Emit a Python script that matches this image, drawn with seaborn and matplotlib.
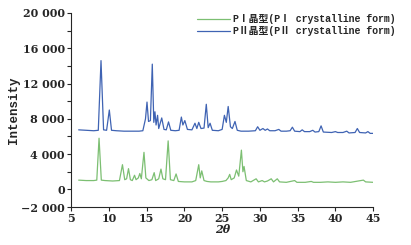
import pandas as pd
import matplotlib.pyplot as plt
import matplotlib.ticker as mticker
import seaborn as sns

# Pontos (2θ, intensidade)
p2_x = [6.0, 7.0, 8.0, 8.6, 8.96, 9.3, 9.7, 10.06, 10.35, 11.0, 12.0, 13.0, 14.0,
        14.5, 14.85, 15.05, 15.25, 15.5, 15.75, 15.95, 16.1, 16.25, 16.45, 16.6, 17.0, 17.3,
        17.6, 17.9, 18.2, 18.8, 19.3, 19.6, 19.8, 20.06, 20.4, 21.0, 21.4, 21.65, 21.9, 22.2,
        22.6, 22.9, 23.15, 23.4, 23.7, 24.5, 25.0, 25.3, 25.55, 25.8, 26.1, 26.35, 26.7, 27.0,
        27.5, 28.5, 29.4, 29.7, 30.0, 30.4, 30.7, 31.0, 31.3, 32.0, 32.5, 32.8, 33.5, 34.0,
        34.3, 34.6, 35.3, 35.6, 35.9, 36.6, 37.0, 37.3, 37.8, 38.1, 38.4, 39.5, 40.0, 40.3,
        41.0, 41.5, 41.8, 42.6, 42.9, 43.2, 44.0, 44.3, 44.6, 45.0]
p2_y = [6750, 6700, 6650, 6700, 14600, 6750, 6700, 9000, 6700, 6650, 6600, 6600, 6600,
        6650, 8000, 9900, 7700, 7800, 14200, 7600, 8800, 7300, 8400, 6900, 8100, 6800,
        6750, 7650, 6700, 6650, 6700, 8200, 7300, 7800, 6800, 6750, 7500, 6900, 7600, 6900,
        6950, 9650, 7000, 7500, 6700, 6650, 6800, 8400, 7600, 9400, 7100, 6900, 7700, 6700,
        6600, 6600, 6650, 7100, 6700, 6900, 6700, 6850, 6650, 6650, 6800, 6600, 6600, 6650,
        7050, 6600, 6550, 6750, 6550, 6550, 6700, 6500, 6550, 7200, 6500, 6450, 6550, 6450,
        6450, 6600, 6400, 6450, 6900, 6450, 6400, 6550, 6350, 6350]

p1_x = [6.0, 7.0, 8.0, 8.4, 8.7, 9.0, 9.5, 10.5, 11.4, 11.8, 12.1, 12.35, 12.6, 12.85,
        13.1, 13.4, 13.6, 13.9, 14.1, 14.3, 14.65, 14.9, 15.3, 15.7, 16.0, 16.2, 16.6, 16.9,
        17.15, 17.5, 17.85, 18.15, 18.6, 18.9, 19.2, 20.0, 21.0, 21.5, 21.9, 22.1, 22.3, 22.6,
        23.0, 23.5, 24.5, 25.0, 25.5, 25.8, 26.0, 26.2, 26.6, 26.9, 27.2, 27.55, 27.75, 27.9,
        28.2, 28.8, 29.5, 29.8, 30.3, 30.6, 31.0, 31.5, 31.8, 32.3, 32.6, 33.5, 34.6, 34.9,
        36.0, 36.8, 37.1, 38.0, 39.0, 40.0, 41.0, 42.0, 43.7, 44.0, 45.0]
p1_y = [1050, 1000, 1000, 1050, 5800, 1050, 1000, 950, 1000, 2800, 1100, 1200, 2350, 1100,
        1000, 1600, 1100, 1300, 1800, 1200, 4200, 1300, 1000, 1100, 1900, 1000, 1200, 2300,
        1200, 1100, 5500, 1100, 1000, 1750, 900, 850, 850, 1000, 2800, 1300, 2100, 1000,
        900, 850, 850, 900, 1000, 1300, 1700, 1100, 1300, 2200, 1500, 4450, 2000, 2600,
        1000, 850, 1200, 850, 1000, 850, 950, 1200, 850, 1200, 850, 800, 1000, 800,
        800, 900, 800, 800, 850, 800, 850, 800, 1050, 850, 800]

label1 = "PⅠ晶型(PⅠ crystalline form)"
label2 = "PⅡ晶型(PⅡ crystalline form)"

x_ticks = [5, 10, 15, 20, 25, 30, 35, 40, 45]
y_ticks = [-2000, 0, 4000, 8000, 12000, 16000, 20000]

df = pd.concat([
    pd.DataFrame({"2theta": p1_x, "intensity": p1_y, "forma": label1}),
    pd.DataFrame({"2theta": p2_x, "intensity": p2_y, "forma": label2}),
], ignore_index=True)

sns.set_style("ticks")
plt.rcParams["font.family"] = ["DejaVu Serif", "Noto Sans CJK SC"]

fig = plt.figure(figsize=(4.11, 2.45), dpi=100)
ax = fig.add_axes([0.173, 0.155, 0.735, 0.792])

sns.lineplot(data=df, x="2theta", y="intensity", hue="forma", estimator=None, sort=False,
             palette={label1: "#7cbf72", label2: "#3f63b3"}, linewidth=0.9, ax=ax)

ax.set_xlim(5, 45)
ax.set_ylim(-2000, 20000)
ax.set_xticks(x_ticks)
ax.set_yticks(y_ticks)
ax.yaxis.set_minor_locator(mticker.MultipleLocator(2000))
ax.yaxis.set_major_formatter(mticker.FuncFormatter(
    lambda v, p: ("−" if v < 0 else "") + f"{abs(int(v)):,}".replace(",", " ")))
ax.tick_params(axis="both", which="major", labelsize=8, length=3, width=0.8, pad=1.5)
ax.tick_params(axis="y", which="minor", length=3, width=0.8)
for lab in ax.get_xticklabels() + ax.get_yticklabels():
    lab.set_fontweight("bold")
sns.despine(ax=ax)

ax.set_xlabel("2θ", fontsize=8, fontweight="bold", fontstyle="italic", labelpad=0)
ax.set_ylabel("Intensity", fontsize=9, fontweight="bold",
              family=["Liberation Mono", "DejaVu Sans Mono"], labelpad=1)

ax.legend(loc="upper left", bbox_to_anchor=(0.405, 1.015), frameon=False,
          handlelength=3.3, handletextpad=0.3, labelspacing=0.25, borderaxespad=0,
          prop={"family": ["Liberation Mono", "Noto Sans CJK SC"], "size": 7.1,
                "weight": "bold"})

fig.savefig("out.png", dpi=100)
